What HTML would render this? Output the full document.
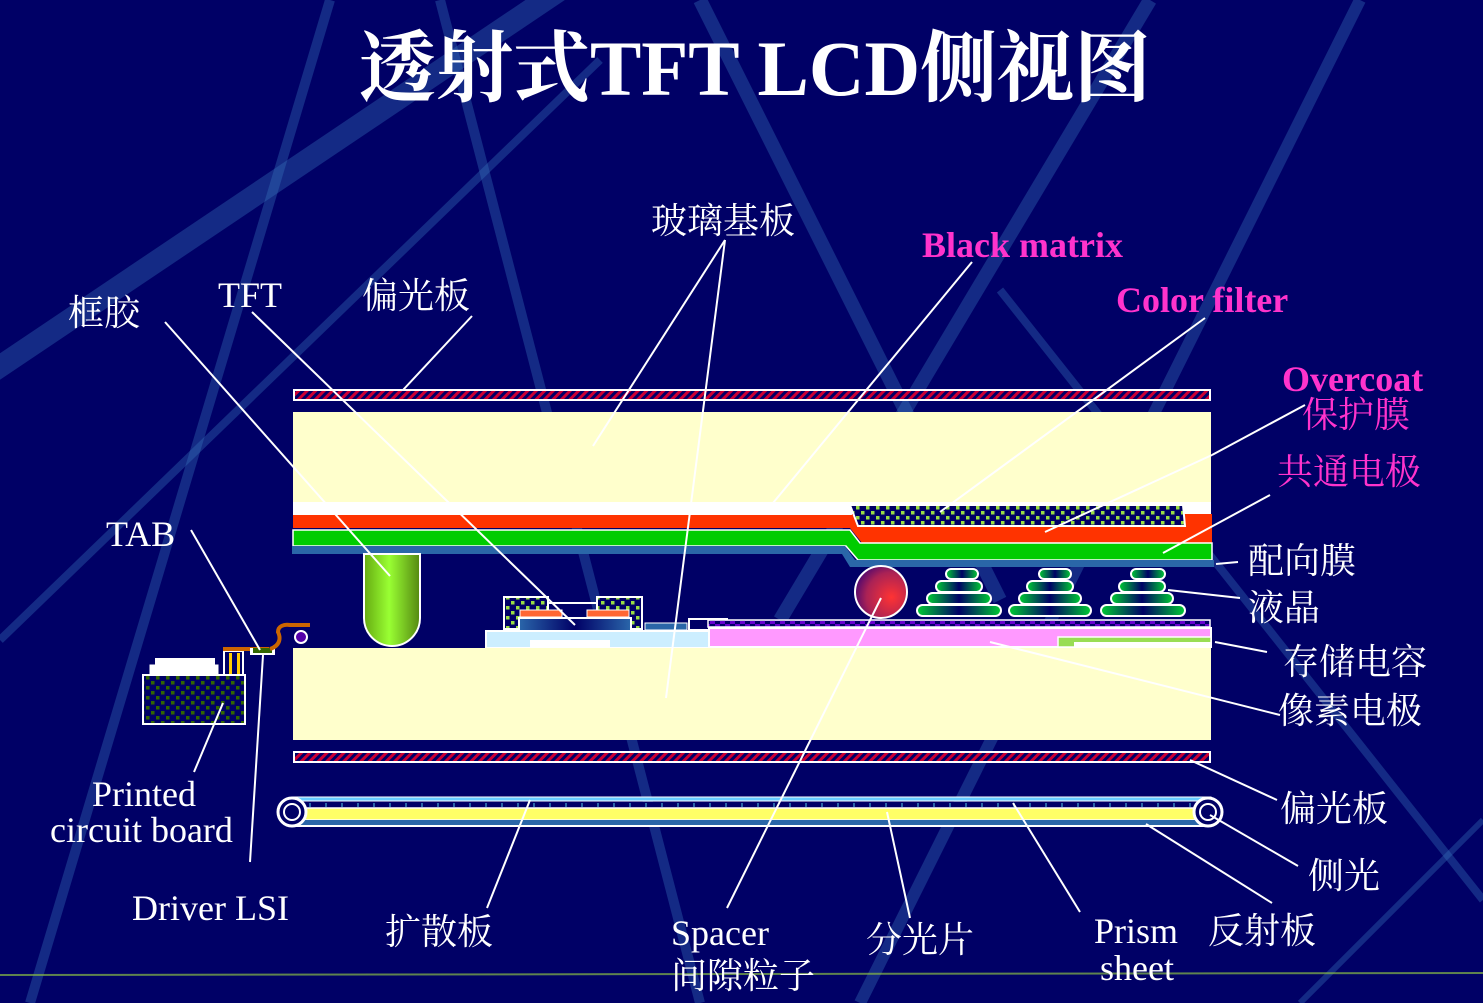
<!DOCTYPE html>
<html><head><meta charset="utf-8"><style>
html,body{margin:0;padding:0;background:#000066;}
svg{display:block}
.w{font-family:"Liberation Serif","Noto Serif CJK SC",serif;fill:#fff;font-size:36px}
.p{font-family:"Liberation Serif","Noto Serif CJK SC",serif;fill:#ff33cc;font-size:36px}
.ln{stroke:#fff;stroke-width:2;fill:none}
</style></head><body>
<svg width="1483" height="1003" viewBox="0 0 1483 1003" xmlns="http://www.w3.org/2000/svg">
<defs>
<pattern id="hatch" width="6" height="6" patternUnits="userSpaceOnUse" patternTransform="rotate(45)">
<rect width="6" height="6" fill="#000066"/><rect width="3" height="6" fill="#cc0033"/></pattern>
<pattern id="chk" width="10" height="10" patternUnits="userSpaceOnUse">
<rect width="10" height="10" fill="#000066"/><rect x="1" y="1" width="3.5" height="3.5" fill="#99dd44"/><rect x="6" y="6" width="3.5" height="3.5" fill="#99dd44"/></pattern>
<pattern id="chk2" width="10" height="10" patternUnits="userSpaceOnUse">
<rect width="10" height="10" fill="#000066"/><rect x="1" y="1" width="3.5" height="3.5" fill="#336600"/><rect x="6" y="6" width="3.5" height="3.5" fill="#336600"/></pattern>
<pattern id="pchk" width="10" height="6" patternUnits="userSpaceOnUse">
<rect width="10" height="6" fill="#6600cc"/><rect x="0" y="0" width="5" height="3" fill="#000066"/><rect x="5" y="3" width="5" height="3" fill="#000066"/></pattern>
<linearGradient id="pill" x1="0" x2="1"><stop offset="0" stop-color="#66aa11"/><stop offset="0.45" stop-color="#99ff33"/><stop offset="1" stop-color="#558811"/></linearGradient>
<linearGradient id="lc" x1="0" x2="1"><stop offset="0" stop-color="#00cc33"/><stop offset="0.5" stop-color="#000066"/><stop offset="1" stop-color="#00cc33"/></linearGradient>
<linearGradient id="tft" x1="0" x2="1"><stop offset="0" stop-color="#2a66aa"/><stop offset="0.5" stop-color="#000066"/><stop offset="1" stop-color="#2a66aa"/></linearGradient>
<radialGradient id="ball" cx="0.7" cy="0.6" r="0.8"><stop offset="0" stop-color="#ff3333"/><stop offset="0.6" stop-color="#aa2255"/><stop offset="1" stop-color="#330077"/></radialGradient>
</defs>
<rect width="1483" height="1003" fill="#000066"/>
<g stroke="#3a78c0" stroke-opacity="0.35" fill="none">
<line x1="-20" y1="380" x2="560" y2="-10" stroke-width="22"/>
<line x1="330" y1="0" x2="30" y2="1003" stroke-width="10"/>
<line x1="440" y1="0" x2="700" y2="1003" stroke-width="10"/>
<line x1="700" y1="0" x2="1000" y2="600" stroke-width="14"/>
<line x1="860" y1="1003" x2="1360" y2="0" stroke-width="12"/>
<line x1="1000" y1="290" x2="1483" y2="900" stroke-width="8"/>
<line x1="1150" y1="0" x2="780" y2="620" stroke-width="14"/>
<line x1="0" y1="640" x2="600" y2="60" stroke-width="8"/>
<line x1="1300" y1="1003" x2="1483" y2="820" stroke-width="6"/>
</g>
<line x1="0" y1="975" x2="1483" y2="973" stroke="#88bb44" stroke-width="2" opacity="0.7"/>
<text x="755" y="95" text-anchor="middle" class="w" style="font-size:78px;font-weight:bold" textLength="792" lengthAdjust="spacingAndGlyphs">透射式TFT  LCD侧视图</text>

<!-- top polarizer -->
<rect x="294" y="390" width="916" height="10" fill="url(#hatch)" stroke="#fff" stroke-width="2"/>
<rect x="293" y="412" width="918" height="91" fill="#ffffcc"/>
<rect x="293" y="502" width="918" height="14" fill="#fff"/>
<rect x="293" y="515" width="560" height="13" fill="#ff3300"/>
<polygon points="852,514 1212,514 1212,543 862,543 850,528" fill="#ff3300"/>
<polygon points="850,505 1183,505 1185,526 858,526" fill="url(#chk)" stroke="#fff" stroke-width="2"/>
<polygon points="293,530 850,530 860,543 1212,543 1212,560 858,560 846,546 293,546" fill="#00cc00" stroke="#fff" stroke-width="1.5"/>
<polygon points="292,546 845,546 855,560 1214,560 1214,567 850,567 842,554 292,554" fill="#2a66a8"/>

<!-- pillar spacer -->
<path d="M364,554 L364,618 A28,28 0 0 0 420,618 L420,554 Z" fill="url(#pill)" stroke="#fff" stroke-width="2"/>
<!-- ball -->
<circle cx="881" cy="592" r="26" fill="url(#ball)" stroke="#fff" stroke-width="2"/>
<!-- LC stacks -->
<g fill="url(#lc)" stroke="#fff" stroke-width="2">
<rect x="946" y="569" width="32" height="10" rx="5"/><rect x="936" y="581" width="46" height="11" rx="5.5"/><rect x="927" y="593" width="64" height="11" rx="5.5"/><rect x="917" y="605" width="84" height="11" rx="5.5"/>
<rect x="1039" y="569" width="32" height="10" rx="5"/><rect x="1027" y="581" width="46" height="11" rx="5.5"/><rect x="1019" y="593" width="62" height="11" rx="5.5"/><rect x="1009" y="605" width="82" height="11" rx="5.5"/>
<rect x="1131" y="569" width="34" height="10" rx="5"/><rect x="1119" y="581" width="46" height="11" rx="5.5"/><rect x="1111" y="593" width="62" height="11" rx="5.5"/><rect x="1101" y="605" width="84" height="11" rx="5.5"/>
</g>
<!-- TFT -->
<rect x="504" y="597" width="44" height="32" fill="url(#chk)" stroke="#fff" stroke-width="2"/>
<rect x="597" y="597" width="45" height="32" fill="url(#chk)" stroke="#fff" stroke-width="2"/>
<line x1="548" y1="603" x2="597" y2="603" stroke="#fff" stroke-width="2"/>
<rect x="520" y="610" width="42" height="7" fill="#ff6633" stroke="#fff"/>
<rect x="587" y="610" width="42" height="7" fill="#ff6633" stroke="#fff"/>
<rect x="519" y="618" width="112" height="13" fill="url(#tft)" stroke="#fff" stroke-width="2"/>
<rect x="486" y="631" width="223" height="17" fill="#cceeff" stroke="#fff" stroke-width="2"/>
<rect x="530" y="640" width="80" height="8" fill="#fff"/>
<rect x="645" y="623" width="42" height="7" fill="#2a66a8" stroke="#fff"/>
<rect x="689" y="619" width="38" height="11" fill="#000066" stroke="#fff" stroke-width="2"/>
<rect x="708" y="620" width="502" height="7" fill="url(#pchk)" stroke="#fff" stroke-width="1.5"/>
<rect x="709" y="628" width="502" height="19" fill="#ff99ff" stroke="#fff" stroke-width="2"/>
<rect x="1058" y="637" width="153" height="10" fill="#99dd55" stroke="#fff" stroke-width="1.5"/>
<rect x="1074" y="642" width="137" height="6" fill="#fff"/>
<!-- bottom glass -->
<rect x="293" y="648" width="918" height="92" fill="#ffffcc"/>
<rect x="294" y="752" width="916" height="10" fill="url(#hatch)" stroke="#fff" stroke-width="2"/>
<!-- backlight -->
<rect x="293" y="797" width="918" height="4" fill="#66ccff" stroke="#fff"/>
<rect x="293" y="802" width="918" height="6" fill="#000066"/>
<line x1="293" y1="805" x2="1211" y2="805" stroke="#2a66a8" stroke-width="4" stroke-dasharray="2 14"/>
<rect x="293" y="808" width="918" height="12" fill="#ffff66" stroke="#fff" stroke-width="1.5"/>
<rect x="293" y="820" width="918" height="5" fill="#2a66a8"/>
<line x1="293" y1="826" x2="1211" y2="826" stroke="#fff" stroke-width="2"/>
<circle cx="292" cy="812" r="14" fill="#000066" stroke="#fff" stroke-width="3"/><circle cx="292" cy="812" r="8" fill="none" stroke="#fff" stroke-width="2"/>
<circle cx="1208" cy="812" r="14" fill="#000066" stroke="#fff" stroke-width="3"/><circle cx="1208" cy="812" r="8" fill="none" stroke="#fff" stroke-width="2"/>
<!-- PCB and TAB -->
<rect x="150" y="665" width="68" height="10" fill="#fff" stroke="#fff"/>
<rect x="155" y="658" width="60" height="12" fill="#fff"/>
<rect x="143" y="675" width="102" height="49" fill="url(#chk2)" stroke="#fff" stroke-width="2"/>
<rect x="224" y="651" width="19" height="24" fill="#000066" stroke="#fff" stroke-width="2"/>
<rect x="229" y="653" width="3" height="21" fill="#ffcc00"/><rect x="237" y="653" width="3" height="21" fill="#ffcc00"/>
<rect x="223" y="647" width="46" height="4" fill="#cc6600"/>
<rect x="250" y="648" width="25" height="7" fill="#fff"/><rect x="253" y="648" width="19" height="5" fill="#336600"/>
<path d="M270,649 C282,645 280,636 278,632 C278,626 284,624 290,625 L310,625" stroke="#cc6600" stroke-width="4" fill="none"/>
<circle cx="301" cy="637" r="6" fill="#5500aa" stroke="#fff" stroke-width="2"/>

<!-- leader lines -->
<g class="ln">
<line x1="165" y1="322" x2="390" y2="576"/>
<line x1="252" y1="312" x2="575" y2="625"/>
<line x1="472" y1="316" x2="403" y2="390"/>
<line x1="725" y1="240" x2="593" y2="446"/>
<line x1="725" y1="240" x2="666" y2="698"/>
<line x1="972" y1="262" x2="773" y2="503"/>
<line x1="1205" y1="318" x2="940" y2="512"/>
<line x1="1305" y1="405" x2="1212" y2="455"/>
<line x1="1212" y1="455" x2="1045" y2="532"/>
<line x1="1270" y1="495" x2="1163" y2="553"/>
<line x1="1238" y1="562" x2="1216" y2="564"/>
<line x1="1240" y1="598" x2="1168" y2="590"/>
<line x1="1267" y1="652" x2="1215" y2="642"/>
<line x1="1280" y1="715" x2="990" y2="642"/>
<line x1="1277" y1="800" x2="1190" y2="760"/>
<line x1="1298" y1="866" x2="1210" y2="815"/>
<line x1="1272" y1="903" x2="1146" y2="824"/>
<line x1="1080" y1="912" x2="1013" y2="803"/>
<line x1="910" y1="918" x2="887" y2="812"/>
<line x1="727" y1="908" x2="881" y2="598"/>
<line x1="487" y1="908" x2="530" y2="800"/>
<line x1="250" y1="862" x2="263" y2="655"/>
<line x1="194" y1="772" x2="223" y2="703"/>
<line x1="191" y1="530" x2="260" y2="650"/>
</g>

<!-- labels -->
<text x="68" y="325" class="w">框胶</text>
<text x="218" y="307" class="w">TFT</text>
<text x="362" y="308" class="w">偏光板</text>
<text x="651" y="233" class="w">玻璃基板</text>
<text x="922" y="257" class="p" style="font-weight:bold">Black matrix</text>
<text x="1116" y="312" class="p" style="font-weight:bold">Color filter</text>
<text x="1282" y="391" class="p" style="font-weight:bold">Overcoat</text>
<text x="1302" y="427" class="p">保护膜</text>
<text x="1277" y="484" class="p">共通电极</text>
<text x="1248" y="573" class="w">配向膜</text>
<text x="1248" y="620" class="w">液晶</text>
<text x="1283" y="674" class="w">存储电容</text>
<text x="1278" y="723" class="w">像素电极</text>
<text x="1280" y="821" class="w">偏光板</text>
<text x="1308" y="888" class="w">侧光</text>
<text x="1208" y="943" class="w">反射板</text>
<text x="1094" y="943" class="w">Prism</text>
<text x="1100" y="980" class="w">sheet</text>
<text x="866" y="952" class="w">分光片</text>
<text x="671" y="945" class="w">Spacer</text>
<text x="671" y="988" class="w">间隙粒子</text>
<text x="385" y="944" class="w">扩散板</text>
<text x="132" y="920" class="w">Driver LSI</text>
<text x="92" y="806" class="w">Printed</text>
<text x="50" y="842" class="w">circuit board</text>
<text x="106" y="546" class="w">TAB</text>
</svg>
</body></html>
